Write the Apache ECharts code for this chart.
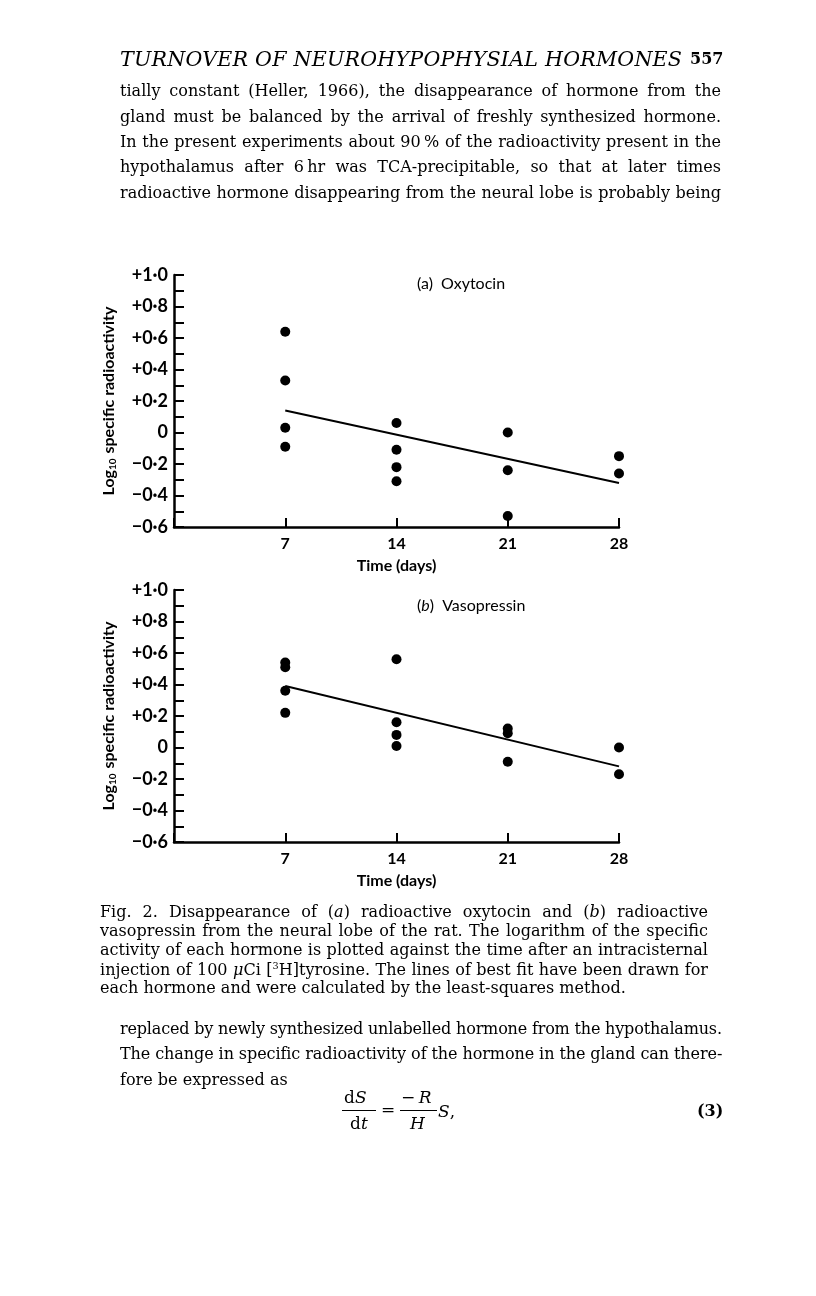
<!DOCTYPE html>
<html><head><meta charset="utf-8">
<script src="https://cdn.jsdelivr.net/npm/echarts/dist/echarts.min.js"></script>
<style>
html,body{margin:0;padding:0;background:#fff;}
#page{position:relative;width:816px;height:1296px;overflow:hidden;background:#fff;}
#chart{position:absolute;left:0;top:0;width:816px;height:1296px;}
.ln{position:absolute;white-space:nowrap;font-family:"DejaVu Serif",serif;color:#000;line-height:1;}
.hd{font-style:italic;}
.eq{position:absolute;font-family:"DejaVu Serif",serif;color:#000;font-size:17px;line-height:1;white-space:nowrap;}
.bar{position:absolute;height:1.4px;background:#000;}
</style></head>
<body><div id="page"><div id="chart"></div></div>
<script>
// ---------------- data ----------------
const xTickValues = [7, 14, 21, 28];
const yLabelValues = [-0.6, -0.4, -0.2, 0, 0.2, 0.4, 0.6, 0.8, 1.0];
const yLabelTexts = ['\u22120\u00b76', '\u22120\u00b74', '\u22120\u00b72', '0', '+0\u00b72', '+0\u00b74', '+0\u00b76', '+0\u00b78', '+1\u00b70'];

const oxyDays   = [7, 7, 7, 7, 14, 14, 14, 14, 21, 21, 21, 28, 28];
const oxyValues = [0.64, 0.33, 0.03, -0.09, 0.06, -0.11, -0.22, -0.31, 0.00, -0.24, -0.53, -0.15, -0.26];
const oxyFitDays = [7, 28];
const oxyFitValues = [0.14, -0.32];

const vasoDays   = [7, 7, 7, 7, 14, 14, 14, 14, 21, 21, 21, 28, 28];
const vasoValues = [0.54, 0.51, 0.36, 0.22, 0.56, 0.16, 0.08, 0.01, 0.12, 0.09, -0.09, 0.00, -0.17];
const vasoFitDays = [7, 28];
const vasoFitValues = [0.39, -0.12];

// ---------------- page text ----------------
const headerText = 'TURNOVER OF NEUROHYPOPHYSIAL HORMONES';
const pageNumber = '557';
const body1 = [
 'tially constant (Heller, 1966), the disappearance of hormone from the',
 'gland must be balanced by the arrival of freshly synthesized hormone.',
 'In the present experiments about 90\u2009% of the radioactivity present in the',
 'hypothalamus after 6\u2009hr was TCA-precipitable, so that at later times',
 'radioactive hormone disappearing from the neural lobe is probably being'
];
const caption = [
 'Fig. 2. Disappearance of (<i>a</i>) radioactive oxytocin and (<i>b</i>) radioactive',
 'vasopressin from the neural lobe of the rat. The logarithm of the specific',
 'activity of each hormone is plotted against the time after an intracisternal',
 'injection of 100 <i>\u03bc</i>Ci [<sup style="font-size:0.6em">3</sup>H]tyrosine. The lines of best fit have been drawn for',
 'each hormone and were calculated by the least-squares method.'
];
const body2 = [
 'replaced by newly synthesized unlabelled hormone from the hypothalamus.',
 'The change in specific radioactivity of the hormone in the gland can there-',
 'fore be expressed as'
];

const page = document.getElementById('page');
function mk(html, left, cy, fs, cls) {
  const s = document.createElement('span');
  s.className = 'ln' + (cls ? ' ' + cls : '');
  s.style.fontSize = fs + 'px';
  s.style.left = left + 'px';
  s.style.top = (cy - fs * 0.55) + 'px';
  s.innerHTML = html;
  page.appendChild(s);
  return s;
}
function fitSize(lines, target) {
  const base = 16;
  const spans = lines.map(t => mk(t, 0, -100, base));
  const maxW = Math.max.apply(null, spans.map(s => s.getBoundingClientRect().width));
  spans.forEach(s => s.remove());
  return base * (target - 3) / maxW;
}
function block(lines, left, cy0, step, target, fs, nJust) {
  lines.forEach((t, i) => {
    const s = mk(t, left, cy0 + i * step, fs);
    if (i < nJust) {
      const w = s.getBoundingClientRect().width;
      const n = (s.textContent.match(/ /g) || []).length;
      if (target - w >= 0) {
        if (n) s.style.wordSpacing = ((target - w) / n) + 'px';
      } else {
        s.style.letterSpacing = ((target - w) / (s.textContent.length - 1)) + 'px';
      }
    }
  });
}
// header
(function () {
  const h = mk(headerText, 120, 60, 16, 'hd');
  const w = h.getBoundingClientRect().width;
  const fs = 16 * 555 / w;
  h.style.fontSize = fs + 'px';
  h.style.top = (60 - fs * 0.55) + 'px';
  const w2 = h.getBoundingClientRect().width;
  h.style.letterSpacing = ((562 - w2) / (headerText.length - 1)) + 'px';
  const p = mk(pageNumber, 690, 60, 16);
  p.style.fontWeight = 'bold';
})();
const bodySize = fitSize(body1, 601);
const capSize = fitSize(caption.slice(0, 4), 608);
block(body1, 120, 92, 25.4, 601, bodySize, 5);
block(caption, 100, 913, 19, 608, capSize, 4);
block(body2, 120, 1030, 25.2, 602, bodySize, 2);

// equation (3)
function eq(html, left, top, style) {
  const e = document.createElement('span');
  e.className = 'eq'; e.innerHTML = html;
  e.style.left = left + 'px'; e.style.top = top + 'px';
  if (style) Object.assign(e.style, style);
  page.appendChild(e); return e;
}
function bar(left, top, w) {
  const b = document.createElement('div');
  b.className = 'bar'; b.style.left = left + 'px'; b.style.top = top + 'px'; b.style.width = w + 'px';
  page.appendChild(b);
}
eq('d<i>S</i>', 344, 1089);
bar(342, 1110, 34);
eq('d<i>t</i>', 350, 1115);
eq('=', 381, 1101);
eq('\u2212\u2009<i>R</i>', 401, 1089);
bar(400, 1110, 37);
eq('<i>H</i>', 410, 1115);
eq('<i>S</i>,', 438, 1103);
eq('(3)', 697, 1103, {fontWeight: 'bold', fontSize: '16px'});

// ---------------- chart ----------------
const ink = '#000';
const sans = 'Lato';
function yLabel(v) {
  const i = yLabelValues.findIndex(t => Math.abs(t - v) < 1e-6);
  return i < 0 ? '' : yLabelTexts[i];
}
function xLabel(v) {
  return xTickValues.indexOf(Math.round(v)) >= 0 ? String(Math.round(v)) : '';
}
function xAxisCfg(gi) {
  return {
    gridIndex: gi, type: 'value', min: 0, max: 28, interval: 7,
    axisLine: {show: true, onZero: false, lineStyle: {color: ink, width: 2.5}},
    axisTick: {show: true, inside: true, length: 9, lineStyle: {color: ink, width: 2}},
    axisLabel: {formatter: xLabel, margin: 9, color: ink, fontFamily: sans, fontWeight: 'bold', fontSize: 16},
    splitLine: {show: false},
    name: 'Time (days)', nameLocation: 'middle', nameGap: 31,
    nameTextStyle: {color: ink, fontFamily: sans, fontWeight: 'bold', fontSize: 16}
  };
}
function yAxisCfg(gi) {
  return {
    gridIndex: gi, type: 'value', min: -0.6, max: 1.0, interval: 0.1,
    axisLine: {show: true, onZero: false, lineStyle: {color: ink, width: 2.5}},
    axisTick: {show: true, inside: true, length: 10, lineStyle: {color: ink, width: 2}},
    axisLabel: {formatter: yLabel, margin: 6, color: ink, fontFamily: sans, fontWeight: 'bold', fontSize: 18},
    splitLine: {show: false},
    name: '{a|Log}{s|10}{a| specific radioactivity}', nameLocation: 'middle', nameRotate: 90, nameGap: 56,
    nameTextStyle: {
      rich: {
        a: {fontFamily: sans, fontWeight: 'bold', fontSize: 16, color: ink, lineHeight: 18},
        s: {fontFamily: sans, fontWeight: 'bold', fontSize: 10, color: ink, lineHeight: 18, verticalAlign: 'bottom', padding: [7, 1, 0, 0]}
      }
    }
  };
}
const chart = echarts.init(document.getElementById('chart'), null, {renderer: 'canvas'});
chart.setOption({
  animation: false,
  backgroundColor: 'transparent',
  title: [
    {text: '(a)  Oxytocin', left: 417, top: 276, padding: 0,
     textStyle: {fontFamily: sans, fontWeight: 'normal', fontSize: 16, color: ink}},
    {text: '{n|(}{i|b}{n|)  Vasopressin}', left: 417, top: 598, padding: 0,
     textStyle: {rich: {
       n: {fontFamily: sans, fontWeight: 'normal', fontSize: 16, color: ink},
       i: {fontFamily: sans, fontStyle: 'italic', fontWeight: 'normal', fontSize: 16, color: ink}
     }}}
  ],
  grid: [
    {left: 174, top: 275, width: 445, height: 252},
    {left: 174, top: 590, width: 445, height: 252}
  ],
  xAxis: [xAxisCfg(0), xAxisCfg(1)],
  yAxis: [yAxisCfg(0), yAxisCfg(1)],
  series: [
    {type: 'scatter', xAxisIndex: 0, yAxisIndex: 0, symbol: 'circle', symbolSize: 10,
     itemStyle: {color: ink, opacity: 1}, data: oxyDays.map((d, i) => [d, oxyValues[i]])},
    {type: 'line', xAxisIndex: 0, yAxisIndex: 0, showSymbol: false, symbol: 'none',
     lineStyle: {color: ink, width: 2}, data: oxyFitDays.map((d, i) => [d, oxyFitValues[i]])},
    {type: 'scatter', xAxisIndex: 1, yAxisIndex: 1, symbol: 'circle', symbolSize: 10,
     itemStyle: {color: ink, opacity: 1}, data: vasoDays.map((d, i) => [d, vasoValues[i]])},
    {type: 'line', xAxisIndex: 1, yAxisIndex: 1, showSymbol: false, symbol: 'none',
     lineStyle: {color: ink, width: 2}, data: vasoFitDays.map((d, i) => [d, vasoFitValues[i]])}
  ]
});
</script>
</body></html>
